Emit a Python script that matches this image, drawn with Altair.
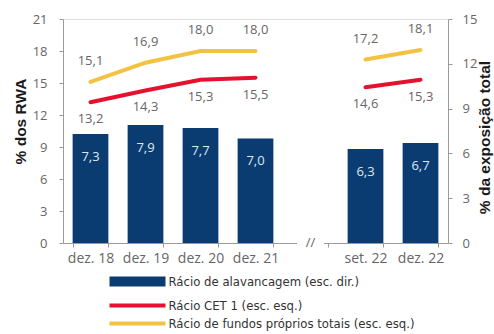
import altair as alt
import pandas as pd

# ---- data ----
cats_all = ["dez. 18", "dez. 19", "dez. 20", "dez. 21", "//", "set. 22", "dez. 22"]
cats = ["dez. 18", "dez. 19", "dez. 20", "dez. 21", "set. 22", "dez. 22"]
segments = ["a", "a", "a", "a", "b", "b"]
alavancagem = [7.3, 7.9, 7.7, 7.0, 6.3, 6.7]
cet1 = [13.2, 14.3, 15.3, 15.5, 14.6, 15.3]
fundos = [15.1, 16.9, 18.0, 18.0, 17.2, 18.1]
left_ticks = [0, 3, 6, 9, 12, 15, 18, 21]
right_ticks = [0, 3, 6, 9, 12, 15]

S_ALAV = "Rácio de alavancagem (esc. dir.)"
S_CET = "Rácio CET 1 (esc. esq.)"
S_TOT = "Rácio de fundos próprios totais (esc. esq.)"

BLUE = "#0b3c71"
RED = "#e4112f"
YELLOW = "#f4c243"
AXIS_GREY = "#9a9a9a"
LABEL_GREY = "#666666"
TICK_FONT = "Open Sans"
LEGEND_FONT = "DejaVu Sans Condensed, Roboto"

bar_df = pd.DataFrame({"cat": cats, "value": alavancagem, "series": S_ALAV})
line_df = pd.concat([
    pd.DataFrame({"cat": cats, "value": cet1, "series": S_CET, "seg": segments}),
    pd.DataFrame({"cat": cats, "value": fundos, "series": S_TOT, "seg": segments}),
], ignore_index=True)
gap_df = pd.DataFrame({"cat": ["//"], "value": [0]})

label_calc = "replace(format(datum.value, '.1f'), '.', ',')"

x_enc = alt.X(
    "cat:N", sort=cats_all,
    scale=alt.Scale(domain=cats_all, paddingInner=0.35, paddingOuter=0.175),
    axis=alt.Axis(title=None, labelExpr="datum.label == '//' ? '' : datum.label",
                  tickBand="extent", tickSize=4, labelPadding=4, labelAngle=0,
                  labelFontSize=14, labelFont=TICK_FONT, labelColor=LABEL_GREY,
                  domainColor=AXIS_GREY, tickColor=AXIS_GREY),
)

y_left = alt.Y(
    "value:Q", scale=alt.Scale(domain=[0, 21], nice=False),
    axis=alt.Axis(orient="left", values=left_ticks, title="% dos RWA", grid=False,
                  titleFont="Liberation Sans", titleFontSize=15.5, titleFontWeight="bold",
                  titleColor="#1a1a1a", titleAngle=270, titleX=-38, titleY=102,
                  titleAlign="center", titleBaseline="alphabetic",
                  tickSize=4, labelPadding=12, labelFontSize=13, labelFont=TICK_FONT,
                  labelColor=LABEL_GREY, domainColor=AXIS_GREY, tickColor=AXIS_GREY),
)
y_right = alt.Y(
    "value:Q", scale=alt.Scale(domain=[0, 15], nice=False),
    axis=alt.Axis(orient="right", values=right_ticks, title="% da exposição total", grid=False,
                  titleFont="Liberation Sans", titleFontSize=15.5, titleFontWeight="bold",
                  titleColor="#1a1a1a", titleAngle=270, titleX=41, titleY=118,
                  titleAlign="center", titleBaseline="alphabetic",
                  tickSize=4, labelPadding=10, labelFontSize=13, labelFont=TICK_FONT,
                  labelColor=LABEL_GREY, domainColor=AXIS_GREY, tickColor=AXIS_GREY),
)

# ---- right-scale group: bars ----
bars = alt.Chart(bar_df).mark_bar().encode(
    x=x_enc, y=y_right,
    fill=alt.Fill("series:N", scale=alt.Scale(domain=[S_ALAV], range=[BLUE]),
                  legend=alt.Legend(title=None, orient="none", legendX=47, legendY=256,
                                    symbolType="M-28,-5H28V5H-28Z", symbolSize=4,
                                    symbolStrokeWidth=0, symbolOffset=21, labelOffset=24.5,
                                    labelFont=LEGEND_FONT, labelFontSize=13, labelColor="#333333",
                                    labelLimit=400, padding=0)),
)
bar_labels = alt.Chart(bar_df).transform_calculate(lbl=label_calc).mark_text(
    dy=23, font=TICK_FONT, fontSize=13, color="#dfe8f2"
).encode(x=x_enc, y=y_right, text="lbl:N")

group_right = alt.layer(bars, bar_labels)

# ---- left-scale group: lines ----
lines = alt.Chart(line_df).mark_line(strokeWidth=4, strokeCap="round").encode(
    x=x_enc, y=y_left, detail="seg:N",
    stroke=alt.Stroke("series:N", scale=alt.Scale(domain=[S_CET, S_TOT], range=[RED, YELLOW]),
                      legend=alt.Legend(title=None, orient="none", legendX=47, legendY=280,
                                        symbolType="M-28,0H28", symbolSize=4,
                                        symbolStrokeWidth=4, symbolOffset=21, labelOffset=24.5,
                                        rowPadding=1, labelFont=LEGEND_FONT, labelFontSize=13,
                                        labelColor="#333333", labelLimit=400, padding=0)),
)
tot_labels = alt.Chart(line_df).transform_filter(alt.datum.series == S_TOT).transform_calculate(
    lbl=label_calc).mark_text(dy=-21, font=TICK_FONT, fontSize=13, color=LABEL_GREY).encode(
    x=x_enc, y=y_left, text="lbl:N")
cet_labels = alt.Chart(line_df).transform_filter(alt.datum.series == S_CET).transform_calculate(
    lbl=label_calc).mark_text(dy=17, font=TICK_FONT, fontSize=13, color=LABEL_GREY).encode(
    x=x_enc, y=y_left, text="lbl:N")

gap_tick = alt.Chart(gap_df).mark_tick(color="white", thickness=6, size=27, opacity=1).encode(
    x=x_enc, y=y_left)
gap_text = alt.Chart(gap_df).mark_text(text="//", font=TICK_FONT, fontSize=13, color=LABEL_GREY).encode(
    x=x_enc, y=y_left)

group_left = alt.layer(lines, tot_labels, cet_labels, gap_tick, gap_text)

chart = alt.layer(group_right, group_left).resolve_scale(y="independent").properties(
    width=385, height=224,
    autosize=alt.AutoSizeParams(type="none"),
    padding={"left": 63, "top": 19, "right": 46, "bottom": 91},
).configure_view(stroke=None).configure(background="white")

chart.save("out.html", embed_options={"renderer": "svg", "actions": False})
